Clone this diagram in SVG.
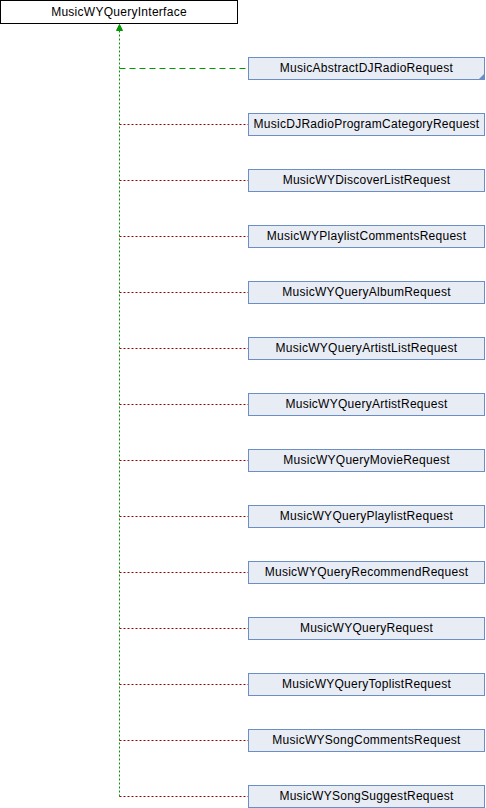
<svg xmlns="http://www.w3.org/2000/svg" width="486" height="808" viewBox="0 0 486 808">
<style>
.n rect{fill:#e8ecf5;stroke:#6c8ec6;stroke-width:1}
.r rect{fill:#ffffff;stroke:#000000;stroke-width:1}
text{font-family:"Liberation Sans",Arial,sans-serif;font-size:12px;letter-spacing:0.27px;fill:#000;text-anchor:middle}
.red{stroke:#990000;stroke-width:1;stroke-dasharray:2,2;fill:none}
.grn{stroke:#009900;stroke-width:1;fill:none}
</style>
<g id="connectors">
<path class="grn" d="M119.5,796.5 V30" stroke-dasharray="2,2"/>
<polygon points="119.5,24.5 122.5,30.5 116.5,30.5" fill="#009900" stroke="#009900" stroke-width="1"/>
<path class="grn" d="M119.5,68.5 H248" stroke-dasharray="6,4"/>
<path class="red" d="M119.5,124.5 H248"/>
<path class="red" d="M119.5,180.5 H248"/>
<path class="red" d="M119.5,236.5 H248"/>
<path class="red" d="M119.5,292.5 H248"/>
<path class="red" d="M119.5,348.5 H248"/>
<path class="red" d="M119.5,404.5 H248"/>
<path class="red" d="M119.5,460.5 H248"/>
<path class="red" d="M119.5,516.5 H248"/>
<path class="red" d="M119.5,572.5 H248"/>
<path class="red" d="M119.5,628.5 H248"/>
<path class="red" d="M119.5,684.5 H248"/>
<path class="red" d="M119.5,740.5 H248"/>
<path class="red" d="M119.5,796.5 H248"/>
</g>
<g id="MusicWYQueryInterface" class="r"><rect x="0.5" y="0.5" width="237" height="23"/><text x="119" y="15.5">MusicWYQueryInterface</text></g>
<g id="MusicAbstractDJRadioRequest" class="n"><rect x="248.5" y="57.5" width="236" height="22"/><path d="M484.5,73.5 L484.5,79.5 L478.5,79.5 Z" fill="#6c8ec6"/><text x="366.5" y="71.5">MusicAbstractDJRadioRequest</text></g>
<g id="MusicDJRadioProgramCategoryRequest" class="n"><rect x="248.5" y="113.5" width="236" height="22"/><text x="366.5" y="127.5">MusicDJRadioProgramCategoryRequest</text></g>
<g id="MusicWYDiscoverListRequest" class="n"><rect x="248.5" y="169.5" width="236" height="22"/><text x="366.5" y="183.5">MusicWYDiscoverListRequest</text></g>
<g id="MusicWYPlaylistCommentsRequest" class="n"><rect x="248.5" y="225.5" width="236" height="22"/><text x="366.5" y="239.5">MusicWYPlaylistCommentsRequest</text></g>
<g id="MusicWYQueryAlbumRequest" class="n"><rect x="248.5" y="281.5" width="236" height="22"/><text x="366.5" y="295.5">MusicWYQueryAlbumRequest</text></g>
<g id="MusicWYQueryArtistListRequest" class="n"><rect x="248.5" y="337.5" width="236" height="22"/><text x="366.5" y="351.5">MusicWYQueryArtistListRequest</text></g>
<g id="MusicWYQueryArtistRequest" class="n"><rect x="248.5" y="393.5" width="236" height="22"/><text x="366.5" y="407.5">MusicWYQueryArtistRequest</text></g>
<g id="MusicWYQueryMovieRequest" class="n"><rect x="248.5" y="449.5" width="236" height="22"/><text x="366.5" y="463.5">MusicWYQueryMovieRequest</text></g>
<g id="MusicWYQueryPlaylistRequest" class="n"><rect x="248.5" y="505.5" width="236" height="22"/><text x="366.5" y="519.5">MusicWYQueryPlaylistRequest</text></g>
<g id="MusicWYQueryRecommendRequest" class="n"><rect x="248.5" y="561.5" width="236" height="22"/><text x="366.5" y="575.5">MusicWYQueryRecommendRequest</text></g>
<g id="MusicWYQueryRequest" class="n"><rect x="248.5" y="617.5" width="236" height="22"/><text x="366.5" y="631.5">MusicWYQueryRequest</text></g>
<g id="MusicWYQueryToplistRequest" class="n"><rect x="248.5" y="673.5" width="236" height="22"/><text x="366.5" y="687.5">MusicWYQueryToplistRequest</text></g>
<g id="MusicWYSongCommentsRequest" class="n"><rect x="248.5" y="729.5" width="236" height="22"/><text x="366.5" y="743.5">MusicWYSongCommentsRequest</text></g>
<g id="MusicWYSongSuggestRequest" class="n"><rect x="248.5" y="785.5" width="236" height="22"/><text x="366.5" y="799.5">MusicWYSongSuggestRequest</text></g>
</svg>
